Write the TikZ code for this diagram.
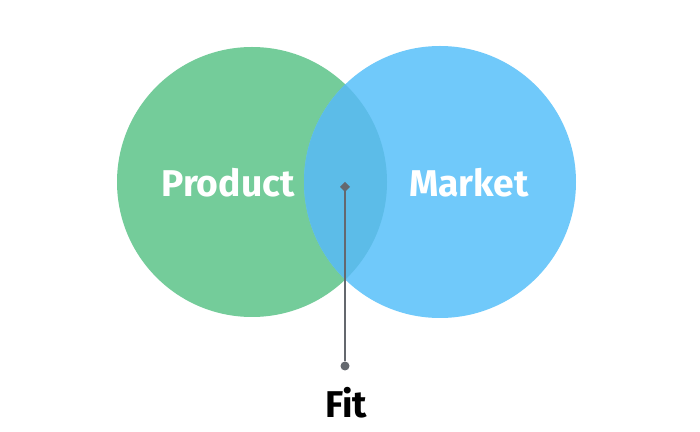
\documentclass[tikz,border=0pt]{standalone}
\usepackage{fontspec}
\setmainfont{Fira Sans}
\usetikzlibrary{positioning}
\definecolor{productgreen}{RGB}{116,204,154}
\definecolor{marketblue}{RGB}{112,201,250}
\definecolor{fitblue}{RGB}{92,188,232}
\definecolor{pingray}{RGB}{100,104,110}

\begin{document}
\begin{tikzpicture}[x=0.025cm,y=-0.025cm,
  vennlabel/.style={font=\bfseries\fontsize{26.5}{30}\selectfont,text=white},
  pinline/.style={draw=pingray,line width=1.4pt}]
\useasboundingbox (0,0) rectangle (700,432);
\fill[white] (0,0) rectangle (700,432);
\fill[productgreen] (252,182) circle[radius=135];
\fill[marketblue] (440,182) circle[radius=136];
\begin{scope}
\clip (252,182) circle[radius=135];
\fill[fitblue] (440,182) circle[radius=136];
\end{scope}
\node[vennlabel] (product) at (228,183) {Product};
\node[vennlabel] (market) at (469,183) {Market};
\coordinate (top) at (345,187);
\node[circle,fill=pingray,inner sep=0pt,minimum size=6.4pt] (bot) at (345,366) {};
\draw[pinline] (top) -- (bot);
\fill[pingray] (top) ++(0,-5) -- ++(5,5) -- ++(-5,5) -- ++(-5,-5) -- cycle;
\node[vennlabel,text=black] (fit) at (346,403) {Fit};
\end{tikzpicture}
\end{document}
